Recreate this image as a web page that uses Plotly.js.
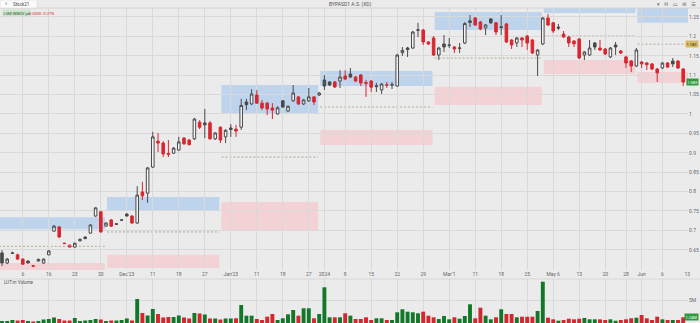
<!DOCTYPE html>
<html><head><meta charset="utf-8">
<script src="https://cdn.plot.ly/plotly-3.0.1.min.js"></script>
<style>html,body{margin:0;padding:0;background:#ebebeb;}#chart{width:700px;height:323px;}</style>
</head><body><div id="chart"></div>
<script>
// ---- data ----
const openP = [0.642,0.616,0.642,0.637,0.626,0.621,0.609,0.621,0.616,0.637,
0.698,0.709,0.667,0.657,0.657,0.673,0.683,0.693,0.737,0.748,
0.711,0.727,0.717,0.726,0.742,0.737,0.719,0.799,0.796,0.863,
0.930,0.925,0.898,0.899,0.907,0.938,0.933,0.936,0.979,0.977,
0.977,0.936,0.966,0.941,0.964,0.961,0.966,1.031,1.026,1.049,
1.028,1.028,1.0155,1.000,1.034,1.0077,1.034,1.044,1.026,1.034,
1.044,1.049,1.0876,1.0825,1.0825,1.085,1.098,1.103,1.0953,1.1005,
1.081,1.085,1.073,1.062,1.074,1.0745,1.072,1.158,1.170,1.170,
1.217,1.2165,1.1856,1.1959,1.152,1.1804,1.178,1.1727,1.169,1.183,
1.240,1.2474,1.237,1.2216,1.245,1.235,1.225,1.232,1.1907,1.183,
1.1959,1.201,1.1907,1.152,1.1804,1.2474,1.235,1.224,1.206,1.1984,
1.1881,1.1933,1.152,1.152,1.183,1.170,1.1675,1.147,1.1778,1.1624,
1.147,1.1366,1.1237,1.134,1.1314,1.129,1.116,1.1185,1.1314,1.1366,
1.1366,1.116];
const highP = [0.649,0.629,0.645,0.640,0.628,0.623,0.610,0.628,0.628,0.649,
0.714,0.711,0.668,0.663,0.668,0.679,0.684,0.716,0.760,0.750,
0.721,0.729,0.718,0.728,0.744,0.739,0.814,0.825,0.863,0.954,
0.951,0.930,0.933,0.915,0.941,0.940,0.935,0.990,0.984,1.013,
0.982,0.953,0.968,0.961,0.974,0.972,1.039,1.039,1.064,1.062,
1.036,1.031,1.028,1.020,1.036,1.022,1.0747,1.046,1.039,1.067,
1.046,1.057,1.1005,1.085,1.085,1.113,1.113,1.1185,1.098,1.103,
1.0876,1.0876,1.080,1.080,1.0825,1.0825,1.155,1.1727,1.173,1.214,
1.235,1.219,1.188,1.201,1.173,1.2036,1.1959,1.1752,1.183,1.237,
1.255,1.250,1.240,1.232,1.247,1.237,1.255,1.235,1.193,1.198,
1.1984,1.2036,1.193,1.167,1.250,1.258,1.237,1.232,1.214,1.201,
1.1907,1.1959,1.162,1.1907,1.1856,1.1907,1.170,1.1727,1.1856,1.165,
1.150,1.139,1.170,1.1366,1.134,1.1314,1.1185,1.134,1.134,1.1443,
1.139,1.1185];
const lowP = [0.608,0.613,0.639,0.624,0.611,0.615,0.606,0.620,0.614,0.636,
0.697,0.680,0.665,0.656,0.656,0.672,0.677,0.692,0.735,0.694,
0.710,0.709,0.715,0.725,0.736,0.717,0.717,0.778,0.771,0.861,
0.902,0.889,0.889,0.897,0.905,0.921,0.919,0.933,0.961,0.938,
0.934,0.933,0.925,0.925,0.941,0.941,0.959,1.010,1.023,1.026,
1.010,0.997,0.987,0.998,1.016,1.005,1.031,1.023,1.023,1.031,
1.023,1.046,1.062,1.072,1.067,1.067,1.087,1.093,1.082,1.072,
1.044,1.0567,1.0567,1.0515,1.067,1.0644,1.070,1.150,1.147,1.168,
1.1984,1.1778,1.178,1.150,1.139,1.1598,1.170,1.1572,1.1572,1.180,
1.224,1.227,1.216,1.2036,1.232,1.2036,1.2036,1.183,1.1675,1.1727,
1.1727,1.165,1.1546,1.098,1.178,1.227,1.2087,1.2165,1.196,1.1727,
1.1727,1.142,1.139,1.150,1.165,1.1624,1.152,1.144,1.152,1.155,
1.1185,1.108,1.121,1.1185,1.1134,1.113,1.0825,1.116,1.1185,1.121,
1.116,1.072];
const closeP = [0.616,0.626,0.641,0.626,0.613,0.616,0.608,0.625,0.626,0.647,
0.711,0.683,0.666,0.662,0.667,0.677,0.679,0.714,0.758,0.696,
0.719,0.711,0.716,0.727,0.737,0.719,0.791,0.789,0.861,0.941,
0.925,0.897,0.896,0.912,0.928,0.923,0.921,0.987,0.966,0.972,
0.936,0.951,0.933,0.958,0.960,0.956,1.022,1.024,1.0515,1.028,
1.0155,1.013,1.010,1.016,1.018,1.020,1.054,1.026,1.036,1.044,
1.031,1.054,1.072,1.0747,1.0696,1.0953,1.090,1.0953,1.085,1.080,
1.079,1.069,1.0705,1.0773,1.075,1.0755,1.152,1.164,1.166,1.2113,
1.216,1.1856,1.1804,1.152,1.170,1.1727,1.177,1.1675,1.170,1.233,
1.236,1.2294,1.219,1.2294,1.235,1.2113,1.223,1.1856,1.1778,1.1959,
1.1907,1.183,1.1572,1.165,1.2474,1.2294,1.214,1.2216,1.1984,1.183,
1.181,1.1443,1.1598,1.170,1.1727,1.165,1.1546,1.170,1.1727,1.1572,
1.1314,1.1237,1.165,1.129,1.127,1.116,1.106,1.1314,1.121,1.129,
1.1185,1.0825];
const volumeM = [0.43,0.43,0.65,0.54,0.65,0.43,0.33,0.43,0.76,0.87,
1.20,0.87,0.54,0.54,1.09,0.43,0.54,0.65,0.87,0.76,
0.43,0.54,0.54,0.65,0.98,0.54,5.22,2.17,1.63,3.04,
1.96,1.20,1.30,1.30,1.63,1.20,0.98,2.17,2.07,1.85,
0.98,0.98,0.76,0.98,0.98,1.02,3.91,1.59,1.59,0.87,
0.65,1.37,1.96,0.65,1.02,1.89,2.83,1.59,3.20,3.20,
1.02,1.96,7.76,1.24,1.24,1.24,2.11,1.59,0.87,0.87,
1.24,0.65,1.02,1.02,0.65,0.65,2.33,2.98,2.46,2.33,
2.11,2.46,1.59,1.24,0.87,1.52,0.80,1.24,0.93,1.52,
4.07,1.02,3.33,1.59,0.80,1.24,2.98,1.96,1.96,1.24,
1.37,1.37,1.37,2.61,8.98,1.15,0.80,0.50,0.65,0.93,
0.80,0.93,1.09,0.80,0.80,0.80,0.65,0.80,0.50,0.65,
0.80,1.02,1.15,1.74,1.02,0.65,1.37,0.80,0.65,0.65,
0.65,1.24];
const tickIdx = [4,9,14,19,24,29,34,39,44,49,54,59,62,66,71,76,81,86,91,96,101,106,111,116,120,123,127,131.8];
const tickLabels = ["6","16","23","30","Dec'23","11","18","27","Jan'23","11","18","27","2024","8","15","22","29","Mar'1","11","18","25","May 6","13","20","28","Jun","6","13"];
const priceTicks = [0.65,0.7,0.75,0.8,0.85,0.9,0.95,1,1.05,1.1,1.15,1.2,1.25];
const periodStart = [0,20,42,61,83,104,122];
const supplyLow  = [0.703,0.750,1.0026,1.072,1.2165,1.260,1.235];
const supplyHigh = [0.734,0.786,1.0747,1.111,1.263,1.276,1.276];
const demandLow  = [0.590,0.603,0.701,0.920,1.023,1.103,1.080];
const demandHigh = [0.616,0.637,0.773,0.959,1.070,1.139,1.108];
const pivotLevel = [0.659,0.696,0.889,1.018,1.144,1.201,1.180];

// ---- geometry helpers ----
const W=700,H=323,mL=0,mR=12,mT=8,mB=0;
const plotW=W-mL-mR, plotH=H-mT-mB;
const xp = px => (px-mL)/plotW;
const yp = py => (H-mB-py)/plotH;
const N = closeP.length;
const idx = closeP.map((_,i)=>i);
const xRange=[-0.385, -0.385+plotW/5.2];

// split candles by close vs previous close
const grp = {up:{x:[],o:[],h:[],l:[],c:[]}, dn:{x:[],o:[],h:[],l:[],c:[]}};
for(let i=0;i<N;i++){
  const g = (i===0 || closeP[i]>=closeP[i-1]) ? grp.up : grp.dn;
  g.x.push(i); g.o.push(openP[i]); g.h.push(highP[i]); g.l.push(lowP[i]); g.c.push(closeP[i]);
}
const DARK='#4a4a4a', RED='#d9272f', HOLLOW='#f7f7f7';
const traces = [
 {type:'candlestick', x:grp.up.x, open:grp.up.o, high:grp.up.h, low:grp.up.l, close:grp.up.c,
  increasing:{line:{color:DARK,width:1},fillcolor:HOLLOW},
  decreasing:{line:{color:DARK,width:1},fillcolor:DARK},
  whiskerwidth:0, xaxis:'x', yaxis:'y', hoverinfo:'skip', showlegend:false},
 {type:'candlestick', x:grp.dn.x, open:grp.dn.o, high:grp.dn.h, low:grp.dn.l, close:grp.dn.c,
  increasing:{line:{color:RED,width:1},fillcolor:HOLLOW},
  decreasing:{line:{color:RED,width:1},fillcolor:RED},
  whiskerwidth:0, xaxis:'x', yaxis:'y', hoverinfo:'skip', showlegend:false},
 {type:'bar', x:idx, y:volumeM, xaxis:'x2', yaxis:'y2', hoverinfo:'skip', showlegend:false,
  marker:{color:idx.map(i=> (i===0||closeP[i]>=closeP[i-1]) ? '#13772a' : '#d3262f'), line:{width:0}}}
];

const shapes=[];
for(let k=0;k<periodStart.length;k++){
  const x0 = k===0 ? -0.6 : periodStart[k]+0.2;
  const x1 = k===periodStart.length-1 ? 133 : periodStart[k+1]-0.2;
  shapes.push({type:'rect',xref:'x',yref:'y',x0,x1,y0:supplyLow[k],y1:supplyHigh[k],fillcolor:'#bed4ec',line:{width:0},layer:'below'});
  shapes.push({type:'rect',xref:'x',yref:'y',x0,x1,y0:demandLow[k],y1:demandHigh[k],fillcolor:'#f2d2d5',line:{width:0},layer:'below'});
  shapes.push({type:'line',xref:'x',yref:'y',x0,x1,y0:pivotLevel[k],y1:pivotLevel[k],line:{color:'#b0a892',width:1,dash:'2px,2px'},layer:'below'});
}
// top bar
shapes.push({type:'line',xref:'paper',yref:'paper',x0:0,x1:xp(700),y0:yp(8),y1:yp(8),line:{color:'#d4d4d4',width:1}});
shapes.push({type:'rect',xref:'paper',yref:'paper',x0:xp(0),x1:xp(37),y0:yp(8),y1:yp(0),fillcolor:'#fbfbfb',line:{color:'#d0d0d0',width:0.5}});
// pane separator
shapes.push({type:'line',xref:'paper',yref:'paper',x0:0,x1:xp(700),y0:yp(279),y1:yp(279),line:{color:'#d6d6d6',width:1}});

const F='Roboto, Arial, sans-serif';
const last = N-1;
const annotations=[
 {xref:'paper',yref:'paper',x:xp(350),y:yp(4),text:'BYPASD1 A.S. (XD)',showarrow:false,font:{family:F,size:5,color:'#555'},xanchor:'center',yanchor:'middle'},
 {xref:'paper',yref:'paper',x:xp(3),y:yp(4),text:'‹',showarrow:false,font:{family:F,size:7,color:'#555'},xanchor:'left',yanchor:'middle'},
 {xref:'paper',yref:'paper',x:xp(11),y:yp(4),text:'Stock21',showarrow:false,font:{family:F,size:4.5,color:'#444'},xanchor:'left',yanchor:'middle'},
 {xref:'paper',yref:'paper',x:xp(655),y:yp(4),text:'▾   H   ▭   ⊟   ☰',showarrow:false,font:{family:'DejaVu Sans',size:5,color:'#666'},xanchor:'left',yanchor:'middle'},
 {xref:'paper',yref:'paper',x:xp(2),y:yp(13),text:'LSM INNOV ps',showarrow:false,bgcolor:'#cde6cd',borderpad:0.5,font:{family:F,size:4,color:'#2f4f2f'},xanchor:'left',yanchor:'middle'},
 {xref:'paper',yref:'paper',x:xp(27),y:yp(13),text:'0.5000 -0.27%',showarrow:false,font:{family:F,size:4,color:'#d9272f'},xanchor:'left',yanchor:'middle'},
 {xref:'paper',yref:'paper',x:xp(2),y:yp(282),text:'LUT.m Volume',showarrow:false,font:{family:F,size:4.5,color:'#555'},xanchor:'left',yanchor:'middle'},
 {xref:'paper',yref:'y',x:xp(699),y:pivotLevel[pivotLevel.length-1],text:pivotLevel[pivotLevel.length-1].toFixed(3),showarrow:false,bgcolor:'#d8b968',borderpad:0.5,font:{family:F,size:4,color:'#3a3000'},xanchor:'right',yanchor:'middle'},
 {xref:'paper',yref:'y',x:xp(699),y:closeP[last],text:closeP[last].toFixed(3),showarrow:false,bgcolor:'#2f9a3d',borderpad:0.5,font:{family:F,size:4,color:'#fff'},xanchor:'right',yanchor:'middle'},
 {xref:'paper',yref:'y2',x:xp(699),y:volumeM[last],text:volumeM[last].toFixed(2)+'M',showarrow:false,bgcolor:'#2f9a3d',borderpad:0.5,font:{family:F,size:4,color:'#fff'},xanchor:'right',yanchor:'middle'}
];

const GRID='#d9d9d9';
const layout={
 width:W,height:H,margin:{l:mL,r:mR,t:mT,b:mB},
 paper_bgcolor:'#ebebeb',plot_bgcolor:'#ebebeb',
 font:{family:F,size:5,color:'#666'},
 showlegend:false, boxmode:'overlay', bargap:0.25,
 xaxis:{domain:[0,1],anchor:'y',range:xRange,tickmode:'array',tickvals:tickIdx,ticktext:tickLabels,
   showgrid:true,gridcolor:GRID,zeroline:false,showline:false,ticks:'',tickfont:{size:5,color:'#666'},
   rangeslider:{visible:false},fixedrange:true,ticklabeloverflow:'allow'},
 yaxis:{domain:[yp(270),1],side:'right',range:[1.2938-270/388,1.2938-8/388],tickmode:'array',tickvals:priceTicks,
   showgrid:true,gridcolor:GRID,zeroline:false,showline:false,ticks:'',tickfont:{size:5,color:'#666'},ticklabeloverflow:'allow'},
 xaxis2:{domain:[0,1],anchor:'y2',matches:'x',range:xRange,tickmode:'array',tickvals:tickIdx,showticklabels:false,
   showgrid:true,gridcolor:GRID,zeroline:false,showline:false,ticks:''},
 yaxis2:{domain:[0,yp(279)],side:'right',range:[0,44/4.6],tickmode:'array',tickvals:[5],ticktext:['5M'],
   showgrid:true,gridcolor:GRID,zeroline:false,showline:false,ticks:'',tickfont:{size:5,color:'#666'}},
 shapes, annotations
};
Plotly.newPlot('chart',traces,layout,{staticPlot:true,displayModeBar:false});
</script></body></html>
